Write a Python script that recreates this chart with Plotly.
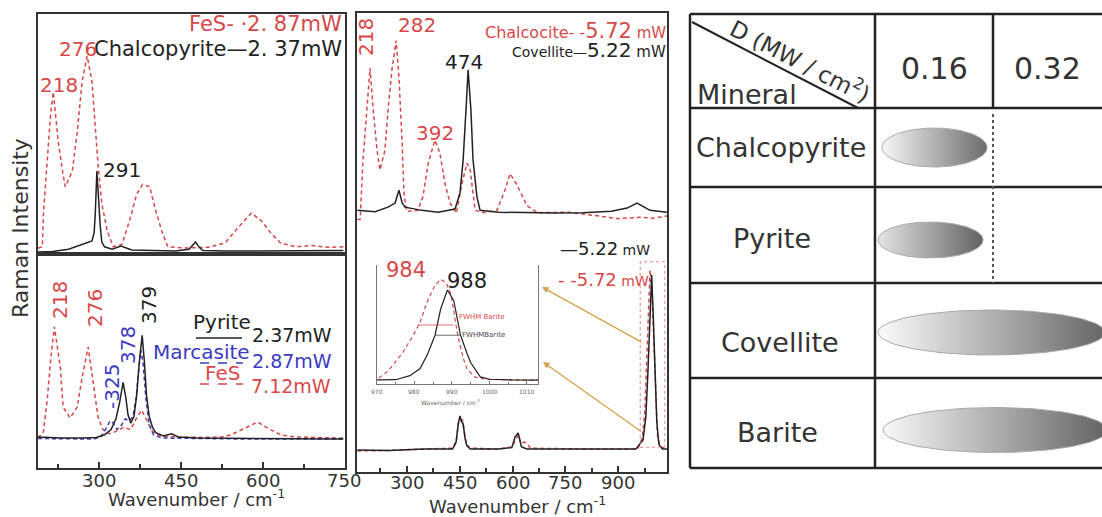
import math
import plotly.graph_objects as go

W, H = 1102, 517
FONT = "DejaVu Sans"
RED = "#d64848"
BLUE = "#3b3bbf"
BLK = "#222222"

# ====================== DATA ======================
# Left panel, upper: FeS 2.87 mW (dashed) and Chalcopyrite 2.37 mW (solid); (wavenumber, intensity a.u.)
fes_a = [(188, 2.5), (196, 3), (198, 17), (205, 37.5), (211, 58), (216, 67.5), (225, 47), (233, 34.6),
         (238, 28), (251, 34.6), (260, 51), (269, 72), (278, 82.5), (287, 72), (293, 54), (298, 37.5),
         (305, 21), (315, 9.6), (326, 3), (342, 4), (356, 14), (369, 25), (380, 29), (393, 28),
         (402, 19.6), (415, 9.6), (426, 3), (460, 2.5), (500, 2.8), (531, 4.6), (555, 11), (579, 17),
         (597, 14), (615, 8.7), (633, 4.6), (660, 3), (690, 3.5), (720, 2.8), (748, 3)]
chalcopyrite = [(188, 0.8), (215, 1.0), (244, 2), (269, 4), (287, 5.4), (291, 9), (293, 16.7), (296, 34.6),
                (299, 22), (302, 12), (305, 5), (310, 3), (324, 2), (340, 3.3), (360, 1.7), (400, 1.5),
                (440, 1.3), (465, 2), (472, 4), (477, 5), (483, 3), (490, 1.5), (530, 1.2), (600, 1.2),
                (680, 1.3), (748, 1.5)]
# Left panel, lower: Pyrite 2.37 mW, Marcasite 2.87 mW, FeS 7.12 mW
pyrite = [(188, 14.5), (230, 14), (270, 14), (295, 14.3), (310, 15.5), (322, 18), (331, 23), (338, 31),
          (344, 40), (349, 33), (353, 25), (358, 21), (364, 24), (369, 34), (374, 50), (379, 62),
          (383, 50), (387, 34), (392, 24), (398, 19), (404, 16.5), (418, 15), (433, 16), (445, 14.5),
          (480, 14), (560, 13.8), (650, 13.8), (748, 13.5)]
marcasite = [(188, 13.8), (250, 13.8), (290, 13.5), (303, 14.5), (312, 18), (320, 22), (326, 21), (333, 18),
             (341, 20), (348, 23), (355, 22), (362, 24), (368, 33), (373, 47), (377, 55), (381, 48),
             (386, 32), (392, 20), (400, 15.5), (415, 14), (460, 13.8), (550, 13.6), (650, 13.6), (748, 13.6)]
fes_b = [(188, 14), (198, 17), (205, 32), (211, 50), (218, 66), (229, 47), (234, 28.5), (247, 23.4),
         (260, 28.5), (269, 42.5), (280, 56.5), (289, 40), (298, 24), (307, 18), (318, 16), (330, 17),
         (345, 19), (358, 18), (368, 23), (378, 27), (388, 22), (398, 17), (412, 15), (440, 14.5),
         (490, 14.3), (525, 14.5), (542, 15.5), (565, 18.5), (591, 21.5), (610, 18.5), (633, 15.5),
         (660, 14.5), (700, 14.3), (748, 14)]
# Middle panel, upper: Chalcocite 5.72 mW (dashed), Covellite 5.22 mW (solid)
chalcocite = [(160, 55), (168, 55), (176, 68), (187, 78.9), (196, 88), (205, 78.9), (216, 70), (224, 65.8),
              (238, 70), (247, 78.9), (258, 87.6), (270, 94), (278, 86), (287, 71.7), (292, 60.8), (300, 56.8),
              (332, 57), (346, 60), (361, 67.3), (380, 72.3), (394, 69.5), (408, 63), (423, 58.6), (441, 56.4),
              (457, 63), (471, 67.3), (480, 65.8), (494, 57), (520, 56.5), (556, 57), (579, 61.5), (593, 65),
              (613, 62.5), (641, 58), (670, 56.5), (760, 56.6), (850, 55.8), (900, 55.2), (960, 55.5),
              (1000, 55.3), (1038, 55.8)]
covellite = [(160, 57), (210, 56.7), (247, 57.7), (267, 58.6), (278, 61.4), (287, 58.6), (295, 57.7), (343, 57),
             (389, 56.6), (437, 57.3), (451, 60.8), (460, 68), (468, 78.9), (474, 87.6), (482, 78.9), (488, 68),
             (499, 60), (508, 57), (560, 56.6), (640, 56.5), (720, 56.4), (800, 56.5), (880, 56.8), (925, 57.5),
             (953, 58.6), (990, 57), (1038, 56.6)]
# Middle panel, lower: Barite 5.22 mW (solid) and 5.72 mW (dashed)
barite_522 = [(160, 4.8), (250, 4.7), (350, 5), (430, 5), (440, 6.5), (446, 10.5), (451, 12.2), (455, 11),
              (460, 10.5), (465, 7.5), (470, 5.8), (480, 5), (560, 5), (598, 5.3), (607, 7.6), (616, 8.5),
              (625, 5.5), (640, 5), (800, 5), (950, 5), (970, 7), (978, 12), (984, 22), (989, 34),
              (994.6, 42.9), (999, 34), (1004, 22), (1009, 11), (1015, 6), (1025, 5), (1038, 5)]
barite_572 = [(160, 4.6), (250, 4.7), (350, 5), (432, 5.2), (441, 7), (447, 10.8), (452, 11.5), (458, 11.3),
              (463, 9), (468, 6.5), (478, 5.2), (560, 5), (600, 5.5), (609, 7.2), (617, 8), (624, 6.2),
              (634, 6.5), (641, 6.3), (650, 5.2), (800, 5), (955, 5), (968, 7.5), (975, 13), (981, 25),
              (986, 37), (990, 44), (995, 40), (1000, 30), (1005, 16), (1011, 8), (1018, 5.5), (1038, 5)]
# Inset (barite main band)
inset_522 = [(970, 3.4), (975, 3.6), (978.8, 7), (981.5, 13), (983.5, 25), (985.5, 41), (987, 63), (988.8, 79),
             (990.5, 70), (992.3, 41), (994, 26), (995, 18), (997.6, 6), (1000, 4), (1006, 3.4), (1013, 3.3)]
inset_572 = [(970.5, 5), (973, 11), (977, 27), (979.5, 40), (981.5, 52), (983.5, 70), (985.5, 83), (987, 88),
             (988.5, 85), (989.8, 75), (990.8, 55), (991.7, 39), (993, 22), (994, 13), (996, 6), (999, 4),
             (1005, 3.5), (1013, 3.3)]
fwhm_572 = [(981, 49.6), (990.5, 49.6)]
fwhm_522 = [(985.5, 41), (992.3, 41)]
# tick values
left_ticks = [300, 450, 600, 750]
mid_ticks = [300, 450, 600, 750, 900]
inset_ticks = [970, 980, 990, 1000, 1010]
# Table: damage ranges of power density D (MW/cm^2)
minerals = ["Chalcopyrite", "Pyrite", "Covellite", "Barite"]
d_headers = ["0.16", "0.32"]
d_start = [0.0895, 0.0841, 0.084, 0.0909]
d_end = [0.2319, 0.2265, 0.392, 0.395]

# ====================== FIGURE ======================
def xs(p): return [a for a, b in p]
def ys(p): return [b for a, b in p]

fig = go.Figure()

def line_trace(data, xa, ya, color, dash="solid", width=1.5):
    fig.add_trace(go.Scatter(x=xs(data), y=ys(data), xaxis=xa, yaxis=ya, mode="lines",
                             line=dict(color=color, width=width, dash=dash), hoverinfo="skip"))

DASH = "4px,3px"
line_trace(fes_a, "x", "y", RED, DASH)
line_trace(chalcopyrite, "x", "y", BLK)
line_trace(fes_b, "x2", "y2", RED, DASH)
line_trace(marcasite, "x2", "y2", BLUE, DASH)
line_trace(pyrite, "x2", "y2", BLK)
line_trace(chalcocite, "x3", "y3", RED, DASH)
line_trace(covellite, "x3", "y3", BLK)
line_trace(barite_572, "x3", "y3", RED, DASH)
line_trace(barite_522, "x3", "y3", BLK)
line_trace(inset_572, "x4", "y4", RED, DASH, 1.2)
line_trace(inset_522, "x4", "y4", BLK, "solid", 1.2)
line_trace(fwhm_572, "x4", "y4", RED, "solid", 0.8)
line_trace(fwhm_522, "x4", "y4", "#444", "solid", 0.8)

# Table ellipses (x = D units, y = table rows in pixel-like units)
row_edges = [14, 108, 187, 283, 378, 468]
ell_dy = [0, 5, 2, 7]
ell_hh = [19.5, 18, 22.5, 22.5]
ell_scales = [[[0, "#f6f6f6"], [1, "#6c6c6c"]], [[0, "#e4e4e4"], [1, "#626262"]],
              [[0, "#fbfbfb"], [1, "#666666"]], [[0, "#f8f8f8"], [1, "#636363"]]]
for i, m in enumerate(minerals):
    cx = (d_start[i] + d_end[i]) / 2
    rx = (d_end[i] - d_start[i]) / 2
    cy = (row_edges[i + 1] + row_edges[i + 2]) / 2 + ell_dy[i]
    t = [2 * math.pi * k / 120 for k in range(121)]
    fig.add_trace(go.Scatter(x=[cx + rx * math.cos(a) for a in t], y=[cy + ell_hh[i] * math.sin(a) for a in t],
                             xaxis="x5", yaxis="y5", mode="lines", fill="toself",
                             fillgradient=dict(type="horizontal", colorscale=ell_scales[i]),
                             line=dict(color="#a8a8a8", width=1), hoverinfo="skip"))

def dom_x(a, b): return [a / W, b / W]
def dom_y(top, bot): return [1 - bot / H, 1 - top / H]

frame = dict(showline=True, mirror=True, linecolor="#333", linewidth=2, showgrid=False, zeroline=False)
fig.update_layout(
    width=W, height=H, margin=dict(l=0, r=0, t=0, b=0), showlegend=False,
    paper_bgcolor="white", plot_bgcolor="white", font=dict(family=FONT),
    xaxis=dict(domain=dom_x(38, 345), range=[188, 751], showticklabels=False, anchor="y", **frame),
    yaxis=dict(domain=dom_y(14, 254), range=[0, 100], showticklabels=False, anchor="x", **frame),
    xaxis2=dict(domain=dom_x(38, 345), range=[188, 751], anchor="y2", ticks="inside", ticklen=6, tickwidth=1.5,
                tickcolor="#333", tickvals=left_ticks, showticklabels=False,
                minor=dict(tickvals=[225, 375, 525, 675], ticks="inside", ticklen=4, tickcolor="#333"), **frame),
    yaxis2=dict(domain=dom_y(254, 468), range=[0, 100], showticklabels=False, anchor="x2", **frame),
    xaxis3=dict(domain=dom_x(357, 667), range=[159, 1038], anchor="y3", ticks="inside", ticklen=6, tickwidth=1.5,
                tickcolor="#333", tickvals=mid_ticks, showticklabels=False,
                minor=dict(tickvals=[225, 375, 525, 675, 825, 975], ticks="inside", ticklen=4, tickcolor="#333"),
                **frame),
    yaxis3=dict(domain=dom_y(13, 472), range=[0, 100], showticklabels=False, anchor="x3", **frame),
    xaxis4=dict(domain=dom_x(377, 538), range=[970, 1013], anchor="y4", showline=True, linecolor="#777",
                linewidth=1, ticks="inside", ticklen=3, tickcolor="#777", tickvals=inset_ticks,
                showticklabels=False, showgrid=False, zeroline=False,
                minor=dict(tickvals=[975, 985, 995, 1005], ticks="inside", ticklen=2, tickcolor="#777")),
    yaxis4=dict(domain=dom_y(265, 384), range=[0, 100], anchor="x4", showline=True, mirror=True,
                linecolor="#777", linewidth=1, showticklabels=False, showgrid=False, zeroline=False),
    xaxis5=dict(domain=[684 / W, 1], range=[-0.179, 0.3878], anchor="y5", visible=False),
    yaxis5=dict(domain=[0, 1], range=[H, 0], anchor="x5", visible=False),
)

def lab(text, x, y, size, color="#333", angle=0, xanchor="center"):
    fig.add_annotation(text=text, x=x / W, y=1 - y / H, xref="paper", yref="paper", showarrow=False,
                       font=dict(size=size, color=color, family=FONT), textangle=angle,
                       xanchor=xanchor, yanchor="middle")

def tick_labels(vals, xref, y, size, color):
    for v in vals:
        fig.add_annotation(text=str(v), x=v, xref=xref, y=1 - y / H, yref="paper", showarrow=False,
                           font=dict(size=size, color=color, family=FONT), xanchor="center", yanchor="middle")

tick_labels(left_ticks, "x2", 480, 18, "#333")
tick_labels(mid_ticks, "x3", 482, 18, "#333")
tick_labels(inset_ticks, "x4", 391, 6, "#666")

# axis titles
lab("Raman Intensity", 20, 228, 22, "#333", -90)
lab("Wavenumber / cm<sup>-1</sup>", 196, 498, 18)
lab("Wavenumber / cm<sup>-1</sup>", 517, 505, 18)

# left upper labels
lab("FeS- ·2. 87mW", 344, 24, 21, RED, xanchor="right")
lab("Chalcopyrite—2. 37mW", 344, 49, 21, BLK, xanchor="right")
lab("276", 78, 49, 20, RED)
lab("218", 59, 85, 20, RED)
lab("291", 122, 170, 20, BLK)
# left lower labels
lab("218", 60, 300, 20, RED, -90)
lab("276", 95, 308, 20, RED, -90)
lab("379", 149, 305, 20, BLK, -90)
lab("378", 128, 345, 20, BLUE, -90)
lab("-325", 112, 387, 20, BLUE, -90)
lab("Pyrite", 222, 322, 20, BLK)
lab("2.37mW", 292, 335, 19, BLK)
lab("Marcasite", 201, 352, 20, BLUE)
lab("2.87mW", 292, 361, 19, BLUE)
lab("FeS", 222, 373, 20, RED)
lab("7.12mW", 291, 386, 19, RED)

# middle labels
lab('Chalcocite- -<span style="font-size:21px">5.72</span><span style="font-size:15px"> mW</span>',
    668, 31, 16, RED, xanchor="right")
lab('Covellite—<span style="font-size:20px">5.22</span><span style="font-size:15px"> mW</span>',
    668, 50, 14, BLK, xanchor="right")
lab("218", 366, 37, 20, RED, -90)
lab("282", 417, 25, 20, RED)
lab("474", 464, 62, 20, BLK)
lab("392", 435, 133, 20, RED)
lab('—5.22<span style="font-size:14px"> mW</span>', 652, 248, 18, BLK, xanchor="right")
lab('- -5.72<span style="font-size:14px"> mW</span>', 651, 279, 18, RED, xanchor="right")
lab("984", 406, 270, 21, RED)
lab("988", 467, 281, 21, BLK)
lab("FWHM Barite", 457, 317, 7, RED, xanchor="left")
lab("FWHMBarite", 460, 335, 7, "#444", xanchor="left")
lab("Wavenumber / cm<sup>-1</sup>", 450, 402, 6, "#666")

# zoom box + arrows (middle panel data coords)
fig.add_shape(type="rect", xref="x3", yref="y3", x0=962, x1=1032, y0=5.4, y1=45.8,
              line=dict(color="#e08080", width=1, dash="dot"))
for (hx, hy, tx, ty) in [(542, 287, 643, 343), (543, 362, 642, 432)]:
    fig.add_annotation(x=hx / W, y=1 - hy / H, xref="paper", yref="paper", ax=tx - hx, ay=ty - hy,
                       text="", showarrow=True, arrowhead=2, arrowsize=1, arrowwidth=1.3,
                       arrowcolor="#d4a24c")

# legend sample lines (left lower)
for (x0, x1, yy, col, dsh) in [(196, 242, 338, BLK, "solid"), (200, 243, 363, BLUE, "dash"),
                                (200, 243, 384, RED, "dash")]:
    fig.add_shape(type="line", xref="paper", yref="paper", x0=x0 / W, x1=x1 / W, y0=1 - yy / H,
                  y1=1 - yy / H, line=dict(color=col, width=1.5, dash=dsh))

# table lines
TL = dict(color="#222", width=2.5)
def pline(x0, y0, x1, y1, **ln):
    fig.add_shape(type="line", xref="paper", yref="paper", x0=x0 / W, y0=1 - y0 / H, x1=x1 / W, y1=1 - y1 / H,
                  line=ln)
for yy in row_edges:
    pline(690, yy, 1102, yy, **TL)
pline(690, 14, 690, 468, **TL)
pline(875, 14, 875, 468, **TL)
pline(993, 14, 993, 108, **TL)
pline(993, 114, 993, 283, color="#555", width=2, dash="dot")
pline(692, 22, 858, 108, color="#222", width=2)

# table text
lab("D (MW / cm<sup>2</sup>)", 800, 60, 23, "#333", 27)
lab("Mineral", 695, 94, 27, "#333", xanchor="left")
lab(d_headers[0], 934, 68, 30)
lab(d_headers[1], 1047, 68, 30)
row_lab_x = [781, 772, 780, 777]
row_lab_y = [148, 238, 342, 432]
for i, m in enumerate(minerals):
    lab(m, row_lab_x[i], row_lab_y[i], 27)

fig.write_html("out.html", config={"displayModeBar": False},
               post_script="document.body.style.margin='0px';document.body.style.overflow='hidden';")
